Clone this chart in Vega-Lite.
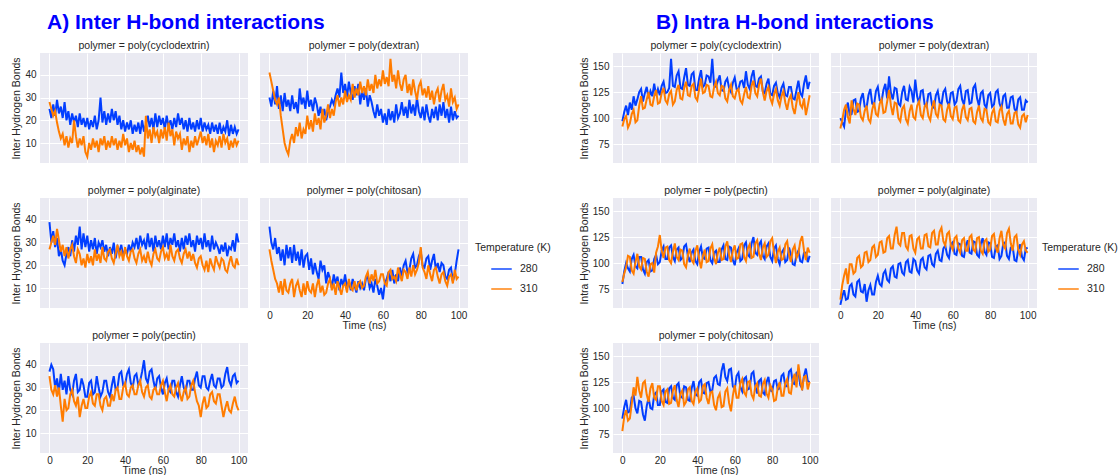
{
"$schema": "https://vega.github.io/schema/vega-lite/v6.json",
"padding": {"left": 11, "top": 11, "right": 0, "bottom": 0},
"background": "white",
"config": {
  "font": "Liberation Sans",
  "view": {"fill": "#eaeaf2", "stroke": null},
  "axis": {"domain": false, "ticks": false, "grid": true, "gridColor": "white", "gridWidth": 1, "labelFontSize": 10, "labelColor": "#262626", "titleFontSize": 10.5, "titleFontWeight": "normal", "titleColor": "#262626", "labelPadding": 4, "titlePadding": 3},
  "axisX": {"titlePadding": 0, "labelPadding": 2},
  "legend": {"titleFontSize": 10.5, "titleFontWeight": "normal", "titleColor": "#262626", "labelFontSize": 10.5, "labelColor": "#262626", "symbolType": "stroke", "symbolSize": 420, "symbolStrokeWidth": 1.5, "symbolOffset": 15, "labelOffset": 7, "rowPadding": 3, "titlePadding": 4, "symbolOpacity": 0.7},
  "title": {"fontSize": 10.5, "fontWeight": "normal", "color": "#262626", "anchor": "middle", "offset": 2},
  "line": {"strokeWidth": 2}
},
"datasets": {
"A_cyclodextrin": [
{"t":0,"280":25,"310":28},{"t":1,"280":21,"310":25},{"t":2,"280":27,"310":22},{"t":3,"280":22,"310":24},{"t":4,"280":29,"310":19},{"t":5,"280":23,"310":15},{"t":6,"280":26,"310":12},{"t":7,"280":21,"310":14},{"t":8,"280":28,"310":9},{"t":9,"280":20,"310":13},
{"t":10,"280":24,"310":8},{"t":11,"280":18,"310":12},{"t":12,"280":23,"310":10},{"t":13,"280":19,"310":20},{"t":14,"280":22,"310":13},{"t":15,"280":17,"310":8},{"t":16,"280":23,"310":12},{"t":17,"280":18,"310":9},{"t":18,"280":21,"310":13},{"t":19,"280":17,"310":6},
{"t":20,"280":21,"310":4},{"t":21,"280":16,"310":10},{"t":22,"280":20,"310":7},{"t":23,"280":17,"310":12},{"t":24,"280":22,"310":8},{"t":25,"280":16,"310":11},{"t":26,"280":20,"310":6},{"t":27,"280":30,"310":12},{"t":28,"280":19,"310":9},{"t":29,"280":24,"310":13},
{"t":30,"280":18,"310":7},{"t":31,"280":23,"310":11},{"t":32,"280":19,"310":8},{"t":33,"280":25,"310":13},{"t":34,"280":20,"310":9},{"t":35,"280":24,"310":12},{"t":36,"280":18,"310":7},{"t":37,"280":22,"310":11},{"t":38,"280":16,"310":8},{"t":39,"280":20,"310":14},
{"t":40,"280":15,"310":9},{"t":41,"280":19,"310":12},{"t":42,"280":16,"310":6},{"t":43,"280":20,"310":10},{"t":44,"280":14,"310":7},{"t":45,"280":18,"310":11},{"t":46,"280":15,"310":6},{"t":47,"280":19,"310":9},{"t":48,"280":14,"310":5},{"t":49,"280":20,"310":8},
{"t":50,"280":15,"310":4},{"t":51,"280":18,"310":22},{"t":52,"280":22,"310":12},{"t":53,"280":17,"310":16},{"t":54,"280":21,"310":10},{"t":55,"280":16,"310":17},{"t":56,"280":23,"310":13},{"t":57,"280":17,"310":15},{"t":58,"280":22,"310":10},{"t":59,"280":18,"310":16},
{"t":60,"280":21,"310":12},{"t":61,"280":16,"310":17},{"t":62,"280":22,"310":11},{"t":63,"280":17,"310":19},{"t":64,"280":20,"310":13},{"t":65,"280":16,"310":16},{"t":66,"280":21,"310":9},{"t":67,"280":17,"310":15},{"t":68,"280":23,"310":12},{"t":69,"280":18,"310":14},
{"t":70,"280":21,"310":7},{"t":71,"280":16,"310":12},{"t":72,"280":20,"310":9},{"t":73,"280":15,"310":13},{"t":74,"280":21,"310":6},{"t":75,"280":16,"310":11},{"t":76,"280":19,"310":8},{"t":77,"280":15,"310":13},{"t":78,"280":20,"310":9},{"t":79,"280":16,"310":12},
{"t":80,"280":21,"310":15},{"t":81,"280":15,"310":10},{"t":82,"280":19,"310":13},{"t":83,"280":16,"310":9},{"t":84,"280":18,"310":14},{"t":85,"280":14,"310":8},{"t":86,"280":19,"310":12},{"t":87,"280":15,"310":6},{"t":88,"280":18,"310":11},{"t":89,"280":14,"310":9},
{"t":90,"280":19,"310":13},{"t":91,"280":14,"310":8},{"t":92,"280":17,"310":14},{"t":93,"280":15,"310":10},{"t":94,"280":20,"310":12},{"t":95,"280":13,"310":7},{"t":96,"280":18,"310":11},{"t":97,"280":14,"310":8},{"t":98,"280":17,"310":12},{"t":99,"280":14,"310":9},{"t":100,"280":16,"310":11}
],
"A_dextran": [
{"t":0,"280":30,"310":41},{"t":1,"280":26,"310":37},{"t":2,"280":33,"310":33},{"t":3,"280":27,"310":29},{"t":4,"280":35,"310":27},{"t":5,"280":25,"310":30},{"t":6,"280":31,"310":22},{"t":7,"280":24,"310":16},{"t":8,"280":32,"310":10},{"t":9,"280":26,"310":7},
{"t":10,"280":29,"310":5},{"t":11,"280":24,"310":11},{"t":12,"280":31,"310":14},{"t":13,"280":25,"310":10},{"t":14,"280":28,"310":17},{"t":15,"280":23,"310":13},{"t":16,"280":34,"310":19},{"t":17,"280":27,"310":12},{"t":18,"280":30,"310":16},{"t":19,"280":25,"310":14},
{"t":20,"280":33,"310":22},{"t":21,"280":26,"310":16},{"t":22,"280":29,"310":20},{"t":23,"280":24,"310":15},{"t":24,"280":30,"310":23},{"t":25,"280":27,"310":18},{"t":26,"280":22,"310":21},{"t":27,"280":26,"310":16},{"t":28,"280":21,"310":25},{"t":29,"280":25,"310":19},
{"t":30,"280":20,"310":22},{"t":31,"280":24,"310":27},{"t":32,"280":26,"310":21},{"t":33,"280":29,"310":25},{"t":34,"280":27,"310":22},{"t":35,"280":31,"310":28},{"t":36,"280":34,"310":31},{"t":37,"280":30,"310":26},{"t":38,"280":41,"310":30},{"t":39,"280":32,"310":27},
{"t":40,"280":36,"310":33},{"t":41,"280":30,"310":28},{"t":42,"280":37,"310":31},{"t":43,"280":32,"310":29},{"t":44,"280":29,"310":36},{"t":45,"280":35,"310":30},{"t":46,"280":31,"310":34},{"t":47,"280":36,"310":31},{"t":48,"280":27,"310":37},{"t":49,"280":33,"310":32},
{"t":50,"280":29,"310":35},{"t":51,"280":34,"310":31},{"t":52,"280":26,"310":38},{"t":53,"280":31,"310":33},{"t":54,"280":28,"310":36},{"t":55,"280":24,"310":32},{"t":56,"280":21,"310":40},{"t":57,"280":27,"310":34},{"t":58,"280":22,"310":38},{"t":59,"280":25,"310":35},
{"t":60,"280":19,"310":42},{"t":61,"280":23,"310":36},{"t":62,"280":18,"310":39},{"t":63,"280":25,"310":35},{"t":64,"280":20,"310":47},{"t":65,"280":24,"310":37},{"t":66,"280":19,"310":40},{"t":67,"280":27,"310":34},{"t":68,"280":21,"310":42},{"t":69,"280":23,"310":36},
{"t":70,"280":28,"310":33},{"t":71,"280":22,"310":38},{"t":72,"280":26,"310":40},{"t":73,"280":21,"310":32},{"t":74,"280":29,"310":36},{"t":75,"280":23,"310":31},{"t":76,"280":27,"310":38},{"t":77,"280":22,"310":33},{"t":78,"280":30,"310":29},{"t":79,"280":24,"310":35},
{"t":80,"280":21,"310":37},{"t":81,"280":26,"310":31},{"t":82,"280":20,"310":34},{"t":83,"280":27,"310":30},{"t":84,"280":22,"310":35},{"t":85,"280":19,"310":29},{"t":86,"280":25,"310":33},{"t":87,"280":21,"310":27},{"t":88,"280":26,"310":32},{"t":89,"280":20,"310":34},
{"t":90,"280":27,"310":28},{"t":91,"280":22,"310":33},{"t":92,"280":28,"310":36},{"t":93,"280":21,"310":29},{"t":94,"280":25,"310":31},{"t":95,"280":19,"310":26},{"t":96,"280":26,"310":34},{"t":97,"280":20,"310":28},{"t":98,"280":24,"310":30},{"t":99,"280":21,"310":25},{"t":100,"280":22,"310":27}
],
"A_alginate": [
{"t":0,"280":39,"310":27},{"t":1,"280":30,"310":30},{"t":2,"280":35,"310":33},{"t":3,"280":28,"310":29},{"t":4,"280":32,"310":36},{"t":5,"280":24,"310":31},{"t":6,"280":27,"310":26},{"t":7,"280":22,"310":29},{"t":8,"280":20,"310":24},{"t":9,"280":25,"310":28},
{"t":10,"280":28,"310":23},{"t":11,"280":24,"310":27},{"t":12,"280":31,"310":29},{"t":13,"280":26,"310":24},{"t":14,"280":33,"310":21},{"t":15,"280":29,"310":27},{"t":16,"280":37,"310":25},{"t":17,"280":27,"310":20},{"t":18,"280":34,"310":23},{"t":19,"280":28,"310":19},
{"t":20,"280":33,"310":25},{"t":21,"280":26,"310":21},{"t":22,"280":31,"310":24},{"t":23,"280":27,"310":20},{"t":24,"280":32,"310":27},{"t":25,"280":25,"310":22},{"t":26,"280":30,"310":25},{"t":27,"280":28,"310":21},{"t":28,"280":31,"310":28},{"t":29,"280":26,"310":23},
{"t":30,"280":29,"310":22},{"t":31,"280":24,"310":26},{"t":32,"280":28,"310":27},{"t":33,"280":25,"310":23},{"t":34,"280":30,"310":21},{"t":35,"280":23,"310":25},{"t":36,"280":28,"310":29},{"t":37,"280":26,"310":24},{"t":38,"280":29,"310":26},{"t":39,"280":24,"310":22},
{"t":40,"280":27,"310":28},{"t":41,"280":25,"310":24},{"t":42,"280":29,"310":22},{"t":43,"280":26,"310":26},{"t":44,"280":30,"310":27},{"t":45,"280":28,"310":23},{"t":46,"280":32,"310":21},{"t":47,"280":27,"310":25},{"t":48,"280":33,"310":27},{"t":49,"280":29,"310":22},
{"t":50,"280":31,"310":24},{"t":51,"280":27,"310":21},{"t":52,"280":34,"310":26},{"t":53,"280":28,"310":22},{"t":54,"280":32,"310":20},{"t":55,"280":26,"310":25},{"t":56,"280":33,"310":27},{"t":57,"280":28,"310":23},{"t":58,"280":31,"310":22},{"t":59,"280":27,"310":26},
{"t":60,"280":33,"310":28},{"t":61,"280":28,"310":23},{"t":62,"280":34,"310":25},{"t":63,"280":27,"310":22},{"t":64,"280":32,"310":29},{"t":65,"280":29,"310":24},{"t":66,"280":34,"310":22},{"t":67,"280":28,"310":26},{"t":68,"280":31,"310":27},{"t":69,"280":26,"310":23},
{"t":70,"280":32,"310":21},{"t":71,"280":27,"310":25},{"t":72,"280":33,"310":27},{"t":73,"280":29,"310":23},{"t":74,"280":34,"310":26},{"t":75,"280":28,"310":22},{"t":76,"280":31,"310":25},{"t":77,"280":26,"310":21},{"t":78,"280":33,"310":19},{"t":79,"280":29,"310":23},
{"t":80,"280":32,"310":24},{"t":81,"280":27,"310":20},{"t":82,"280":34,"310":18},{"t":83,"280":28,"310":22},{"t":84,"280":31,"310":17},{"t":85,"280":26,"310":23},{"t":86,"280":33,"310":20},{"t":87,"280":27,"310":18},{"t":88,"280":30,"310":24},{"t":89,"280":28,"310":21},
{"t":90,"280":25,"310":19},{"t":91,"280":29,"310":23},{"t":92,"280":26,"310":22},{"t":93,"280":30,"310":18},{"t":94,"280":24,"310":17},{"t":95,"280":28,"310":21},{"t":96,"280":27,"310":24},{"t":97,"280":31,"310":20},{"t":98,"280":26,"310":19},{"t":99,"280":34,"310":23},{"t":100,"280":30,"310":20}
],
"A_chitosan": [
{"t":0,"280":37,"310":27},{"t":1,"280":30,"310":22},{"t":2,"280":27,"310":18},{"t":3,"280":32,"310":14},{"t":4,"280":25,"310":12},{"t":5,"280":28,"310":8},{"t":6,"280":22,"310":13},{"t":7,"280":27,"310":7},{"t":8,"280":20,"310":14},{"t":9,"280":29,"310":9},
{"t":10,"280":23,"310":8},{"t":11,"280":28,"310":12},{"t":12,"280":21,"310":14},{"t":13,"280":29,"310":6},{"t":14,"280":22,"310":11},{"t":15,"280":26,"310":13},{"t":16,"280":20,"310":9},{"t":17,"280":27,"310":6},{"t":18,"280":19,"310":12},{"t":19,"280":24,"310":7},
{"t":20,"280":25,"310":13},{"t":21,"280":18,"310":9},{"t":22,"280":23,"310":8},{"t":23,"280":16,"310":12},{"t":24,"280":21,"310":6},{"t":25,"280":17,"310":11},{"t":26,"280":14,"310":14},{"t":27,"280":22,"310":8},{"t":28,"280":18,"310":11},{"t":29,"280":20,"310":7},
{"t":30,"280":12,"310":8},{"t":31,"280":17,"310":12},{"t":32,"280":14,"310":14},{"t":33,"280":10,"310":9},{"t":34,"280":16,"310":12},{"t":35,"280":12,"310":7},{"t":36,"280":15,"310":13},{"t":37,"280":9,"310":10},{"t":38,"280":14,"310":7},{"t":39,"280":11,"310":11},
{"t":40,"280":16,"310":12},{"t":41,"280":10,"310":8},{"t":42,"280":13,"310":14},{"t":43,"280":9,"310":10},{"t":44,"280":14,"310":9},{"t":45,"280":11,"310":13},{"t":46,"280":8,"310":9},{"t":47,"280":13,"310":12},{"t":48,"280":10,"310":13},{"t":49,"280":12,"310":10},
{"t":50,"280":9,"310":11},{"t":51,"280":14,"310":15},{"t":52,"280":15,"310":17},{"t":53,"280":10,"310":12},{"t":54,"280":12,"310":16},{"t":55,"280":8,"310":13},{"t":56,"280":14,"310":18},{"t":57,"280":11,"310":12},{"t":58,"280":7,"310":13},{"t":59,"280":10,"310":16},
{"t":60,"280":5,"310":16},{"t":61,"280":12,"310":12},{"t":62,"280":14,"310":11},{"t":63,"280":17,"310":17},{"t":64,"280":13,"310":18},{"t":65,"280":18,"310":14},{"t":66,"280":12,"310":15},{"t":67,"280":16,"310":13},{"t":68,"280":13,"310":19},{"t":69,"280":19,"310":16},
{"t":70,"280":15,"310":13},{"t":71,"280":20,"310":18},{"t":72,"280":22,"310":17},{"t":73,"280":17,"310":14},{"t":74,"280":18,"310":19},{"t":75,"280":23,"310":15},{"t":76,"280":25,"310":20},{"t":77,"280":19,"310":16},{"t":78,"280":20,"310":18},{"t":79,"280":24,"310":21},
{"t":80,"280":26,"310":28},{"t":81,"280":20,"310":19},{"t":82,"280":19,"310":17},{"t":83,"280":23,"310":14},{"t":84,"280":24,"310":20},{"t":85,"280":18,"310":16},{"t":86,"280":22,"310":13},{"t":87,"280":25,"310":18},{"t":88,"280":18,"310":19},{"t":89,"280":21,"310":15},
{"t":90,"280":17,"310":12},{"t":91,"280":21,"310":16},{"t":92,"280":20,"310":17},{"t":93,"280":15,"310":13},{"t":94,"280":14,"310":11},{"t":95,"280":18,"310":15},{"t":96,"280":19,"310":16},{"t":97,"280":13,"310":12},{"t":98,"280":16,"310":18},{"t":99,"280":22,"310":14},{"t":100,"280":27,"310":15}
],
"A_pectin": [
{"t":0,"280":37,"310":35},{"t":1,"280":40,"310":29},{"t":2,"280":38,"310":27},{"t":3,"280":30,"310":31},{"t":4,"280":34,"310":26},{"t":5,"280":28,"310":30},{"t":6,"280":36,"310":22},{"t":7,"280":29,"310":15},{"t":8,"280":33,"310":25},{"t":9,"280":27,"310":20},
{"t":10,"280":35,"310":21},{"t":11,"280":29,"310":27},{"t":12,"280":27,"310":29},{"t":13,"280":33,"310":24},{"t":14,"280":36,"310":22},{"t":15,"280":28,"310":26},{"t":16,"280":29,"310":17},{"t":17,"280":34,"310":22},{"t":18,"280":31,"310":25},{"t":19,"280":26,"310":21},
{"t":20,"280":26,"310":21},{"t":21,"280":32,"310":26},{"t":22,"280":33,"310":28},{"t":23,"280":27,"310":23},{"t":24,"280":28,"310":22},{"t":25,"280":35,"310":27},{"t":26,"280":30,"310":27},{"t":27,"280":26,"310":22},{"t":28,"280":28,"310":20},{"t":29,"280":33,"310":25},
{"t":30,"280":33,"310":26},{"t":31,"280":28,"310":22},{"t":32,"280":26,"310":22},{"t":33,"280":31,"310":27},{"t":34,"280":35,"310":24},{"t":35,"280":29,"310":29},{"t":36,"280":30,"310":30},{"t":37,"280":36,"310":25},{"t":38,"280":37,"310":25},{"t":39,"280":31,"310":30},
{"t":40,"280":31,"310":32},{"t":41,"280":36,"310":27},{"t":42,"280":38,"310":26},{"t":43,"280":32,"310":30},{"t":44,"280":30,"310":31},{"t":45,"280":35,"310":27},{"t":46,"280":36,"310":27},{"t":47,"280":31,"310":31},{"t":48,"280":33,"310":33},{"t":49,"280":37,"310":28},
{"t":50,"280":42,"310":26},{"t":51,"280":34,"310":30},{"t":52,"280":32,"310":31},{"t":53,"280":37,"310":26},{"t":54,"280":38,"310":25},{"t":55,"280":33,"310":29},{"t":56,"280":29,"310":30},{"t":57,"280":34,"310":27},{"t":58,"280":35,"310":27},{"t":59,"280":30,"310":31},
{"t":60,"280":27,"310":33},{"t":61,"280":32,"310":28},{"t":62,"280":34,"310":24},{"t":63,"280":29,"310":29},{"t":64,"280":28,"310":31},{"t":65,"280":33,"310":27},{"t":66,"280":33,"310":26},{"t":67,"280":28,"310":30},{"t":68,"280":26,"310":32},{"t":69,"280":31,"310":27},
{"t":70,"280":35,"310":24},{"t":71,"280":30,"310":28},{"t":72,"280":28,"310":30},{"t":73,"280":33,"310":25},{"t":74,"280":33,"310":26},{"t":75,"280":29,"310":31},{"t":76,"280":29,"310":33},{"t":77,"280":34,"310":28},{"t":78,"280":37,"310":24},{"t":79,"280":31,"310":22},
{"t":80,"280":30,"310":17},{"t":81,"280":35,"310":23},{"t":82,"280":35,"310":26},{"t":83,"280":30,"310":21},{"t":84,"280":29,"310":22},{"t":85,"280":33,"310":27},{"t":86,"280":36,"310":28},{"t":87,"280":31,"310":24},{"t":88,"280":30,"310":23},{"t":89,"280":34,"310":27},
{"t":90,"280":34,"310":27},{"t":91,"280":30,"310":22},{"t":92,"280":31,"310":17},{"t":93,"280":36,"310":21},{"t":94,"280":39,"310":24},{"t":95,"280":33,"310":20},{"t":96,"280":31,"310":19},{"t":97,"280":35,"310":23},{"t":98,"280":36,"310":26},{"t":99,"280":32,"310":22},{"t":100,"280":33,"310":20}
],
"B_cyclodextrin": [
{"t":0,"280":97,"310":92},{"t":1,"280":106,"310":99},{"t":2,"280":112,"310":102},{"t":3,"280":103,"310":91},{"t":4,"280":115,"310":95},{"t":5,"280":108,"310":104},{"t":6,"280":121,"310":108},{"t":7,"280":112,"310":96},{"t":8,"280":118,"310":98},{"t":9,"280":125,"310":112},
{"t":10,"280":128,"310":121},{"t":11,"280":116,"310":109},{"t":12,"280":124,"310":110},{"t":13,"280":130,"310":118},{"t":14,"280":119,"310":125},{"t":15,"280":126,"310":113},{"t":16,"280":121,"310":112},{"t":17,"280":133,"310":121},{"t":18,"280":122,"310":127},{"t":19,"280":128,"310":114},
{"t":20,"280":122,"310":115},{"t":21,"280":131,"310":124},{"t":22,"280":135,"310":129},{"t":23,"280":124,"310":117},{"t":24,"280":125,"310":114},{"t":25,"280":129,"310":123},{"t":26,"280":157,"310":126},{"t":27,"280":131,"310":113},{"t":28,"280":130,"310":116},{"t":29,"280":141,"310":127},
{"t":30,"280":145,"310":132},{"t":31,"280":129,"310":119},{"t":32,"280":128,"310":118},{"t":33,"280":139,"310":129},{"t":34,"280":148,"310":135},{"t":35,"280":132,"310":122},{"t":36,"280":131,"310":121},{"t":37,"280":142,"310":131},{"t":38,"280":144,"310":133},{"t":39,"280":127,"310":120},
{"t":40,"280":127,"310":117},{"t":41,"280":138,"310":128},{"t":42,"280":146,"310":138},{"t":43,"280":130,"310":124},{"t":44,"280":132,"310":125},{"t":45,"280":141,"310":132},{"t":46,"280":140,"310":131},{"t":47,"280":134,"310":121},{"t":48,"280":157,"310":120},{"t":49,"280":131,"310":130},
{"t":50,"280":130,"310":135},{"t":51,"280":136,"310":124},{"t":52,"280":141,"310":122},{"t":53,"280":127,"310":131},{"t":54,"280":126,"310":130},{"t":55,"280":135,"310":119},{"t":56,"280":138,"310":116},{"t":57,"280":129,"310":127},{"t":58,"280":125,"310":132},{"t":59,"280":134,"310":121},
{"t":60,"280":139,"310":119},{"t":61,"280":128,"310":126},{"t":62,"280":128,"310":128},{"t":63,"280":135,"310":117},{"t":64,"280":136,"310":114},{"t":65,"280":129,"310":123},{"t":66,"280":145,"310":130},{"t":67,"280":132,"310":120},{"t":68,"280":128,"310":119},{"t":69,"280":140,"310":131},
{"t":70,"280":146,"310":136},{"t":71,"280":131,"310":124},{"t":72,"280":130,"310":121},{"t":73,"280":138,"310":132},{"t":74,"280":140,"310":138},{"t":75,"280":126,"310":125},{"t":76,"280":124,"310":117},{"t":77,"280":133,"310":126},{"t":78,"280":138,"310":130},{"t":79,"280":123,"310":119},
{"t":80,"280":122,"310":114},{"t":81,"280":131,"310":123},{"t":82,"280":134,"310":128},{"t":83,"280":124,"310":117},{"t":84,"280":120,"310":112},{"t":85,"280":129,"310":121},{"t":86,"280":133,"310":126},{"t":87,"280":122,"310":115},{"t":88,"280":121,"310":108},{"t":89,"280":130,"310":118},
{"t":90,"280":130,"310":122},{"t":91,"280":119,"310":110},{"t":92,"280":118,"310":104},{"t":93,"280":127,"310":115},{"t":94,"280":136,"310":125},{"t":95,"280":124,"310":113},{"t":96,"280":121,"310":110},{"t":97,"280":133,"310":119},{"t":98,"280":141,"310":103},{"t":99,"280":128,"310":112},{"t":100,"280":135,"310":122}
],
"B_dextran": [
{"t":0,"280":100,"310":90},{"t":1,"280":96,"310":98},{"t":2,"280":92,"310":108},{"t":3,"280":108,"310":113},{"t":4,"280":115,"310":101},{"t":5,"280":103,"310":95},{"t":6,"280":104,"310":117},{"t":7,"280":117,"310":109},{"t":8,"280":118,"310":103},{"t":9,"280":106,"310":114},
{"t":10,"280":107,"310":113},{"t":11,"280":119,"310":101},{"t":12,"280":124,"310":98},{"t":13,"280":111,"310":107},{"t":14,"280":110,"310":112},{"t":15,"280":122,"310":99},{"t":16,"280":128,"310":96},{"t":17,"280":114,"310":108},{"t":18,"280":113,"310":115},{"t":19,"280":126,"310":104},
{"t":20,"280":130,"310":102},{"t":21,"280":117,"310":114},{"t":22,"280":116,"310":118},{"t":23,"280":127,"310":105},{"t":24,"280":133,"310":106},{"t":25,"280":119,"310":116},{"t":26,"280":140,"310":127},{"t":27,"280":124,"310":112},{"t":28,"280":118,"310":103},{"t":29,"280":129,"310":115},
{"t":30,"280":128,"310":114},{"t":31,"280":114,"310":100},{"t":32,"280":112,"310":97},{"t":33,"280":125,"310":109},{"t":34,"280":131,"310":112},{"t":35,"280":118,"310":99},{"t":36,"280":117,"310":95},{"t":37,"280":130,"310":107},{"t":38,"280":126,"310":113},{"t":39,"280":115,"310":101},
{"t":40,"280":137,"310":99},{"t":41,"280":121,"310":112},{"t":42,"280":114,"310":116},{"t":43,"280":126,"310":103},{"t":44,"280":127,"310":100},{"t":45,"280":113,"310":111},{"t":46,"280":111,"310":114},{"t":47,"280":123,"310":102},{"t":48,"280":124,"310":98},{"t":49,"280":112,"310":110},
{"t":50,"280":110,"310":117},{"t":51,"280":122,"310":104},{"t":52,"280":126,"310":101},{"t":53,"280":115,"310":113},{"t":54,"280":113,"310":112},{"t":55,"280":125,"310":99},{"t":56,"280":128,"310":97},{"t":57,"280":116,"310":108},{"t":58,"280":112,"310":114},{"t":59,"280":124,"310":102},
{"t":60,"280":125,"310":99},{"t":61,"280":113,"310":110},{"t":62,"280":116,"310":111},{"t":63,"280":128,"310":98},{"t":64,"280":131,"310":96},{"t":65,"280":118,"310":108},{"t":66,"280":113,"310":113},{"t":67,"280":126,"310":101},{"t":68,"280":127,"310":98},{"t":69,"280":114,"310":109},
{"t":70,"280":115,"310":110},{"t":71,"280":129,"310":97},{"t":72,"280":132,"310":95},{"t":73,"280":119,"310":106},{"t":74,"280":112,"310":112},{"t":75,"280":124,"310":100},{"t":76,"280":126,"310":97},{"t":77,"280":113,"310":109},{"t":78,"280":110,"310":108},{"t":79,"280":122,"310":96},
{"t":80,"280":124,"310":94},{"t":81,"280":111,"310":105},{"t":82,"280":113,"310":109},{"t":83,"280":125,"310":97},{"t":84,"280":127,"310":96},{"t":85,"280":114,"310":107},{"t":86,"280":109,"310":111},{"t":87,"280":121,"310":99},{"t":88,"280":123,"310":93},{"t":89,"280":110,"310":104},
{"t":90,"280":110,"310":107},{"t":91,"280":120,"310":95},{"t":92,"280":121,"310":95},{"t":93,"280":109,"310":105},{"t":94,"280":106,"310":106},{"t":95,"280":118,"310":94},{"t":96,"280":120,"310":91},{"t":97,"280":108,"310":102},{"t":98,"280":108,"310":104},{"t":99,"280":117,"310":96},{"t":100,"280":115,"310":103}
],
"B_pectin": [
{"t":0,"280":80,"310":82},{"t":1,"280":92,"310":90},{"t":2,"280":100,"310":96},{"t":3,"280":95,"310":107},{"t":4,"280":92,"310":106},{"t":5,"280":104,"310":93},{"t":6,"280":108,"310":90},{"t":7,"280":97,"310":101},{"t":8,"280":95,"310":109},{"t":9,"280":106,"310":97},
{"t":10,"280":106,"310":94},{"t":11,"280":94,"310":105},{"t":12,"280":90,"310":104},{"t":13,"280":101,"310":92},{"t":14,"280":103,"310":87},{"t":15,"280":92,"310":99},{"t":16,"280":93,"310":100},{"t":17,"280":104,"310":91},{"t":18,"280":108,"310":110},{"t":19,"280":99,"310":116},
{"t":20,"280":101,"310":127},{"t":21,"280":112,"310":112},{"t":22,"280":116,"310":105},{"t":23,"280":104,"310":115},{"t":24,"280":104,"310":116},{"t":25,"280":115,"310":103},{"t":26,"280":117,"310":100},{"t":27,"280":106,"310":111},{"t":28,"280":102,"310":119},{"t":29,"280":113,"310":106},
{"t":30,"280":115,"310":103},{"t":31,"280":103,"310":113},{"t":32,"280":105,"310":112},{"t":33,"280":116,"310":99},{"t":34,"280":118,"310":96},{"t":35,"280":107,"310":108},{"t":36,"280":101,"310":114},{"t":37,"280":110,"310":103},{"t":38,"280":113,"310":100},{"t":39,"280":102,"310":112},
{"t":40,"280":99,"310":117},{"t":41,"280":111,"310":104},{"t":42,"280":116,"310":95},{"t":43,"280":105,"310":107},{"t":44,"280":104,"310":113},{"t":45,"280":114,"310":101},{"t":46,"280":115,"310":102},{"t":47,"280":103,"310":114},{"t":48,"280":100,"310":118},{"t":49,"280":110,"310":105},
{"t":50,"280":112,"310":99},{"t":51,"280":101,"310":110},{"t":52,"280":101,"310":115},{"t":53,"280":113,"310":103},{"t":54,"280":117,"310":104},{"t":55,"280":104,"310":116},{"t":56,"280":103,"310":121},{"t":57,"280":116,"310":108},{"t":58,"280":115,"310":101},{"t":59,"280":103,"310":112},
{"t":60,"280":98,"310":117},{"t":61,"280":110,"310":104},{"t":62,"280":114,"310":105},{"t":63,"280":102,"310":118},{"t":64,"280":104,"310":119},{"t":65,"280":117,"310":106},{"t":66,"280":120,"310":102},{"t":67,"280":108,"310":114},{"t":68,"280":106,"310":118},{"t":69,"280":119,"310":105},
{"t":70,"280":125,"310":106},{"t":71,"280":110,"310":119},{"t":72,"280":108,"310":122},{"t":73,"280":118,"310":109},{"t":74,"280":121,"310":103},{"t":75,"280":107,"310":115},{"t":76,"280":104,"310":119},{"t":77,"280":116,"310":106},{"t":78,"280":119,"310":108},{"t":79,"280":106,"310":121},
{"t":80,"280":102,"310":124},{"t":81,"280":114,"310":110},{"t":82,"280":117,"310":100},{"t":83,"280":104,"310":111},{"t":84,"280":99,"310":115},{"t":85,"280":110,"310":103},{"t":86,"280":113,"310":104},{"t":87,"280":101,"310":118},{"t":88,"280":103,"310":121},{"t":89,"280":115,"310":108},
{"t":90,"280":108,"310":101},{"t":91,"280":99,"310":113},{"t":92,"280":98,"310":117},{"t":93,"280":108,"310":105},{"t":94,"280":112,"310":109},{"t":95,"280":102,"310":121},{"t":96,"280":101,"310":126},{"t":97,"280":110,"310":112},{"t":98,"280":110,"310":103},{"t":99,"280":101,"310":115},{"t":100,"280":107,"310":110}
],
"B_alginate": [
{"t":0,"280":60,"310":65},{"t":1,"280":68,"310":79},{"t":2,"280":74,"310":88},{"t":3,"280":65,"310":95},{"t":4,"280":66,"310":80},{"t":5,"280":78,"310":99},{"t":6,"280":80,"310":99},{"t":7,"280":70,"310":90},{"t":8,"280":68,"310":92},{"t":9,"280":82,"310":105},
{"t":10,"280":84,"310":107},{"t":11,"280":73,"310":96},{"t":12,"280":72,"310":98},{"t":13,"280":80,"310":110},{"t":14,"280":63,"310":111},{"t":15,"280":74,"310":101},{"t":16,"280":79,"310":103},{"t":17,"280":70,"310":115},{"t":18,"280":70,"310":117},{"t":19,"280":82,"310":106},
{"t":20,"280":88,"310":108},{"t":21,"280":80,"310":120},{"t":22,"280":78,"310":121},{"t":23,"280":90,"310":110},{"t":24,"280":93,"310":111},{"t":25,"280":84,"310":124},{"t":26,"280":82,"310":126},{"t":27,"280":95,"310":114},{"t":28,"280":97,"310":114},{"t":29,"280":87,"310":127},
{"t":30,"280":86,"310":135},{"t":31,"280":99,"310":119},{"t":32,"280":100,"310":117},{"t":33,"280":91,"310":129},{"t":34,"280":89,"310":129},{"t":35,"280":101,"310":116},{"t":36,"280":103,"310":113},{"t":37,"280":92,"310":126},{"t":38,"280":91,"310":127},{"t":39,"280":104,"310":114},
{"t":40,"280":102,"310":110},{"t":41,"280":93,"310":123},{"t":42,"280":90,"310":125},{"t":43,"280":103,"310":114},{"t":44,"280":105,"310":114},{"t":45,"280":96,"310":127},{"t":46,"280":94,"310":128},{"t":47,"280":107,"310":116},{"t":48,"280":108,"310":115},{"t":49,"280":99,"310":129},
{"t":50,"280":97,"310":131},{"t":51,"280":109,"310":118},{"t":52,"280":112,"310":118},{"t":53,"280":103,"310":130},{"t":54,"280":102,"310":134},{"t":55,"280":114,"310":121},{"t":56,"280":117,"310":117},{"t":57,"280":108,"310":128},{"t":58,"280":105,"310":130},{"t":59,"280":118,"310":117},
{"t":60,"280":120,"310":113},{"t":61,"280":109,"310":124},{"t":62,"280":108,"310":126},{"t":63,"280":119,"310":114},{"t":64,"280":118,"310":110},{"t":65,"280":107,"310":122},{"t":66,"280":106,"310":124},{"t":67,"280":117,"310":112},{"t":68,"280":122,"310":112},{"t":69,"280":110,"310":125},
{"t":70,"280":109,"310":127},{"t":71,"280":121,"310":113},{"t":72,"280":120,"310":111},{"t":73,"280":108,"310":124},{"t":74,"280":106,"310":125},{"t":75,"280":119,"310":112},{"t":76,"280":124,"310":109},{"t":77,"280":111,"310":121},{"t":78,"280":108,"310":123},{"t":79,"280":120,"310":111},
{"t":80,"280":119,"310":113},{"t":81,"280":106,"310":126},{"t":82,"280":105,"310":128},{"t":83,"280":116,"310":115},{"t":84,"280":117,"310":110},{"t":85,"280":104,"310":124},{"t":86,"280":107,"310":131},{"t":87,"280":119,"310":117},{"t":88,"280":120,"310":114},{"t":89,"280":107,"310":129},
{"t":90,"280":104,"310":133},{"t":91,"280":115,"310":119},{"t":92,"280":116,"310":112},{"t":93,"280":103,"310":125},{"t":94,"280":102,"310":127},{"t":95,"280":113,"310":113},{"t":96,"280":118,"310":108},{"t":97,"280":106,"310":118},{"t":98,"280":103,"310":121},{"t":99,"280":114,"310":112},{"t":100,"280":115,"310":110}
],
"B_chitosan": [
{"t":0,"280":90,"310":78},{"t":1,"280":101,"310":92},{"t":2,"280":108,"310":98},{"t":3,"280":96,"310":88},{"t":4,"280":97,"310":90},{"t":5,"280":110,"310":104},{"t":6,"280":112,"310":120},{"t":7,"280":100,"310":112},{"t":8,"280":95,"310":130},{"t":9,"280":107,"310":117},
{"t":10,"280":106,"310":110},{"t":11,"280":94,"310":124},{"t":12,"280":88,"310":126},{"t":13,"280":102,"310":113},{"t":14,"280":110,"310":106},{"t":15,"280":100,"310":119},{"t":16,"280":99,"310":124},{"t":17,"280":113,"310":110},{"t":18,"280":115,"310":108},{"t":19,"280":103,"310":121},
{"t":20,"280":103,"310":121},{"t":21,"280":116,"310":107},{"t":22,"280":118,"310":103},{"t":23,"280":106,"310":116},{"t":24,"280":105,"310":118},{"t":25,"280":119,"310":104},{"t":26,"280":121,"310":105},{"t":27,"280":110,"310":117},{"t":28,"280":108,"310":122},{"t":29,"280":122,"310":108},
{"t":30,"280":124,"310":101},{"t":31,"280":111,"310":114},{"t":32,"280":110,"310":117},{"t":33,"280":121,"310":103},{"t":34,"280":120,"310":106},{"t":35,"280":108,"310":118},{"t":36,"280":107,"310":120},{"t":37,"280":119,"310":107},{"t":38,"280":126,"310":104},{"t":39,"280":113,"310":116},
{"t":40,"280":112,"310":119},{"t":41,"280":125,"310":106},{"t":42,"280":127,"310":108},{"t":43,"280":115,"310":121},{"t":44,"280":114,"310":123},{"t":45,"280":124,"310":110},{"t":46,"280":125,"310":104},{"t":47,"280":116,"310":115},{"t":48,"280":117,"310":116},{"t":49,"280":129,"310":103},
{"t":50,"280":131,"310":98},{"t":51,"280":123,"310":110},{"t":52,"280":122,"310":114},{"t":53,"280":136,"310":101},{"t":54,"280":143,"310":102},{"t":55,"280":130,"310":116},{"t":56,"280":126,"310":119},{"t":57,"280":137,"310":105},{"t":58,"280":138,"310":97},{"t":59,"280":121,"310":112},
{"t":60,"280":118,"310":122},{"t":61,"280":131,"310":110},{"t":62,"280":134,"310":110},{"t":63,"280":120,"310":124},{"t":64,"280":116,"310":128},{"t":65,"280":128,"310":115},{"t":66,"280":130,"310":112},{"t":67,"280":118,"310":125},{"t":68,"280":119,"310":126},{"t":69,"280":133,"310":113},
{"t":70,"280":135,"310":109},{"t":71,"280":121,"310":121},{"t":72,"280":114,"310":124},{"t":73,"280":126,"310":112},{"t":74,"280":128,"310":111},{"t":75,"280":115,"310":123},{"t":76,"280":113,"310":127},{"t":77,"280":125,"310":114},{"t":78,"280":130,"310":110},{"t":79,"280":117,"310":122},
{"t":80,"280":116,"310":118},{"t":81,"280":126,"310":107},{"t":82,"280":127,"310":108},{"t":83,"280":118,"310":120},{"t":84,"280":119,"310":125},{"t":85,"280":131,"310":112},{"t":86,"280":133,"310":112},{"t":87,"280":121,"310":124},{"t":88,"280":121,"310":128},{"t":89,"280":135,"310":115},
{"t":90,"280":137,"310":114},{"t":91,"280":124,"310":127},{"t":92,"280":123,"310":133},{"t":93,"280":134,"310":120},{"t":94,"280":135,"310":142},{"t":95,"280":122,"310":128},{"t":96,"280":119,"310":117},{"t":97,"280":131,"310":130},{"t":98,"280":138,"310":131},{"t":99,"280":126,"310":118},{"t":100,"280":125,"310":125}
]
},
"hconcat": [
{
  "title": {"text": "A) Inter H-bond interactions", "anchor": "start", "frame": "group", "fontSize": 21, "fontWeight": "bold", "color": "#0000ff", "dx": 7, "offset": 8},
  "columns": 2,
  "bounds": "flush",
  "spacing": {"row": 35, "column": 12},
  "concat": [
    {"title": "polymer = poly(cyclodextrin)", "data": {"name": "A_cyclodextrin"}, "transform": [{"fold": ["280", "310"], "as": ["T", "y"]}], "width": 208, "height": 110, "mark": "line",
     "encoding": {
      "x": {"field": "t", "type": "quantitative", "scale": {"domain": [-5, 105], "nice": false, "zero": false}, "axis": {"values": [0, 20, 40, 60, 80, 100], "labels": false, "title": null}},
      "y": {"field": "y", "type": "quantitative", "scale": {"domain": [1.2, 49.6], "nice": false, "zero": false}, "axis": {"values": [10, 20, 30, 40], "title": "Inter Hydrogen Bonds"}},
      "color": {"field": "T", "type": "nominal", "scale": {"domain": ["280", "310"], "range": ["#023eff", "#ff7c00"]}, "legend": {"title": "Temperature (K)", "orient": "none", "legendX": 435, "legendY": 190}}}},
    {"title": "polymer = poly(dextran)", "data": {"name": "A_dextran"}, "transform": [{"fold": ["280", "310"], "as": ["T", "y"]}], "width": 208, "height": 110, "mark": "line",
     "encoding": {
      "x": {"field": "t", "type": "quantitative", "scale": {"domain": [-5, 105], "nice": false, "zero": false}, "axis": {"values": [0, 20, 40, 60, 80, 100], "labels": false, "title": null}},
      "y": {"field": "y", "type": "quantitative", "scale": {"domain": [1.2, 49.6], "nice": false, "zero": false}, "axis": {"values": [10, 20, 30, 40], "labels": false, "title": null}},
      "color": {"field": "T", "type": "nominal", "scale": {"domain": ["280", "310"], "range": ["#023eff", "#ff7c00"]}, "legend": {"title": "Temperature (K)", "orient": "none", "legendX": 435, "legendY": 190}}}},
    {"title": "polymer = poly(alginate)", "data": {"name": "A_alginate"}, "transform": [{"fold": ["280", "310"], "as": ["T", "y"]}], "width": 208, "height": 110, "mark": "line",
     "encoding": {
      "x": {"field": "t", "type": "quantitative", "scale": {"domain": [-5, 105], "nice": false, "zero": false}, "axis": {"values": [0, 20, 40, 60, 80, 100], "labels": false, "title": null}},
      "y": {"field": "y", "type": "quantitative", "scale": {"domain": [1.2, 49.6], "nice": false, "zero": false}, "axis": {"values": [10, 20, 30, 40], "title": "Inter Hydrogen Bonds"}},
      "color": {"field": "T", "type": "nominal", "scale": {"domain": ["280", "310"], "range": ["#023eff", "#ff7c00"]}, "legend": {"title": "Temperature (K)", "orient": "none", "legendX": 435, "legendY": 190}}}},
    {"title": "polymer = poly(chitosan)", "data": {"name": "A_chitosan"}, "transform": [{"fold": ["280", "310"], "as": ["T", "y"]}], "width": 208, "height": 110, "mark": "line",
     "encoding": {
      "x": {"field": "t", "type": "quantitative", "scale": {"domain": [-5, 105], "nice": false, "zero": false}, "axis": {"values": [0, 20, 40, 60, 80, 100], "title": "Time (ns)"}},
      "y": {"field": "y", "type": "quantitative", "scale": {"domain": [1.2, 49.6], "nice": false, "zero": false}, "axis": {"values": [10, 20, 30, 40], "labels": false, "title": null}},
      "color": {"field": "T", "type": "nominal", "scale": {"domain": ["280", "310"], "range": ["#023eff", "#ff7c00"]}, "legend": {"title": "Temperature (K)", "orient": "none", "legendX": 435, "legendY": 190}}}},
    {"title": "polymer = poly(pectin)", "data": {"name": "A_pectin"}, "transform": [{"fold": ["280", "310"], "as": ["T", "y"]}], "width": 208, "height": 110, "mark": "line",
     "encoding": {
      "x": {"field": "t", "type": "quantitative", "scale": {"domain": [-5, 105], "nice": false, "zero": false}, "axis": {"values": [0, 20, 40, 60, 80, 100], "title": "Time (ns)"}},
      "y": {"field": "y", "type": "quantitative", "scale": {"domain": [1.2, 49.6], "nice": false, "zero": false}, "axis": {"values": [10, 20, 30, 40], "title": "Inter Hydrogen Bonds"}},
      "color": {"field": "T", "type": "nominal", "scale": {"domain": ["280", "310"], "range": ["#023eff", "#ff7c00"]}, "legend": {"title": "Temperature (K)", "orient": "none", "legendX": 435, "legendY": 190}}}}
  ]
},
{
  "title": {"text": "B) Intra H-bond interactions", "anchor": "start", "frame": "group", "fontSize": 21, "fontWeight": "bold", "color": "#0000ff", "dx": 43, "offset": 8},
  "columns": 2,
  "bounds": "flush",
  "spacing": {"row": 35, "column": 12},
  "concat": [
    {"title": "polymer = poly(cyclodextrin)", "data": {"name": "B_cyclodextrin"}, "transform": [{"fold": ["280", "310"], "as": ["T", "y"]}], "width": 206, "height": 110, "mark": "line",
     "encoding": {
      "x": {"field": "t", "type": "quantitative", "scale": {"domain": [-5, 105], "nice": false, "zero": false}, "axis": {"values": [0, 20, 40, 60, 80, 100], "labels": false, "title": null}},
      "y": {"field": "y", "type": "quantitative", "scale": {"domain": [57, 162.5], "nice": false, "zero": false}, "axis": {"values": [75, 100, 125, 150], "title": "Intra Hydrogen Bonds"}},
      "color": {"field": "T", "type": "nominal", "scale": {"domain": ["280", "310"], "range": ["#023eff", "#ff7c00"]}, "legend": {"title": "Temperature (K)", "orient": "none", "legendX": 429, "legendY": 190}}}},
    {"title": "polymer = poly(dextran)", "data": {"name": "B_dextran"}, "transform": [{"fold": ["280", "310"], "as": ["T", "y"]}], "width": 206, "height": 110, "mark": "line",
     "encoding": {
      "x": {"field": "t", "type": "quantitative", "scale": {"domain": [-5, 105], "nice": false, "zero": false}, "axis": {"values": [0, 20, 40, 60, 80, 100], "labels": false, "title": null}},
      "y": {"field": "y", "type": "quantitative", "scale": {"domain": [57, 162.5], "nice": false, "zero": false}, "axis": {"values": [75, 100, 125, 150], "labels": false, "title": null}},
      "color": {"field": "T", "type": "nominal", "scale": {"domain": ["280", "310"], "range": ["#023eff", "#ff7c00"]}, "legend": {"title": "Temperature (K)", "orient": "none", "legendX": 429, "legendY": 190}}}},
    {"title": "polymer = poly(pectin)", "data": {"name": "B_pectin"}, "transform": [{"fold": ["280", "310"], "as": ["T", "y"]}], "width": 206, "height": 110, "mark": "line",
     "encoding": {
      "x": {"field": "t", "type": "quantitative", "scale": {"domain": [-5, 105], "nice": false, "zero": false}, "axis": {"values": [0, 20, 40, 60, 80, 100], "labels": false, "title": null}},
      "y": {"field": "y", "type": "quantitative", "scale": {"domain": [57, 162.5], "nice": false, "zero": false}, "axis": {"values": [75, 100, 125, 150], "title": "Intra Hydrogen Bonds"}},
      "color": {"field": "T", "type": "nominal", "scale": {"domain": ["280", "310"], "range": ["#023eff", "#ff7c00"]}, "legend": {"title": "Temperature (K)", "orient": "none", "legendX": 429, "legendY": 190}}}},
    {"title": "polymer = poly(alginate)", "data": {"name": "B_alginate"}, "transform": [{"fold": ["280", "310"], "as": ["T", "y"]}], "width": 206, "height": 110, "mark": "line",
     "encoding": {
      "x": {"field": "t", "type": "quantitative", "scale": {"domain": [-5, 105], "nice": false, "zero": false}, "axis": {"values": [0, 20, 40, 60, 80, 100], "title": "Time (ns)"}},
      "y": {"field": "y", "type": "quantitative", "scale": {"domain": [57, 162.5], "nice": false, "zero": false}, "axis": {"values": [75, 100, 125, 150], "labels": false, "title": null}},
      "color": {"field": "T", "type": "nominal", "scale": {"domain": ["280", "310"], "range": ["#023eff", "#ff7c00"]}, "legend": {"title": "Temperature (K)", "orient": "none", "legendX": 429, "legendY": 190}}}},
    {"title": "polymer = poly(chitosan)", "data": {"name": "B_chitosan"}, "transform": [{"fold": ["280", "310"], "as": ["T", "y"]}], "width": 206, "height": 110, "mark": "line",
     "encoding": {
      "x": {"field": "t", "type": "quantitative", "scale": {"domain": [-5, 105], "nice": false, "zero": false}, "axis": {"values": [0, 20, 40, 60, 80, 100], "title": "Time (ns)"}},
      "y": {"field": "y", "type": "quantitative", "scale": {"domain": [57, 162.5], "nice": false, "zero": false}, "axis": {"values": [75, 100, 125, 150], "title": "Intra Hydrogen Bonds"}},
      "color": {"field": "T", "type": "nominal", "scale": {"domain": ["280", "310"], "range": ["#023eff", "#ff7c00"]}, "legend": {"title": "Temperature (K)", "orient": "none", "legendX": 429, "legendY": 190}}}}
  ]
}
],
"spacing": 28,
"resolve": {"scale": {"color": "independent"}}
}
